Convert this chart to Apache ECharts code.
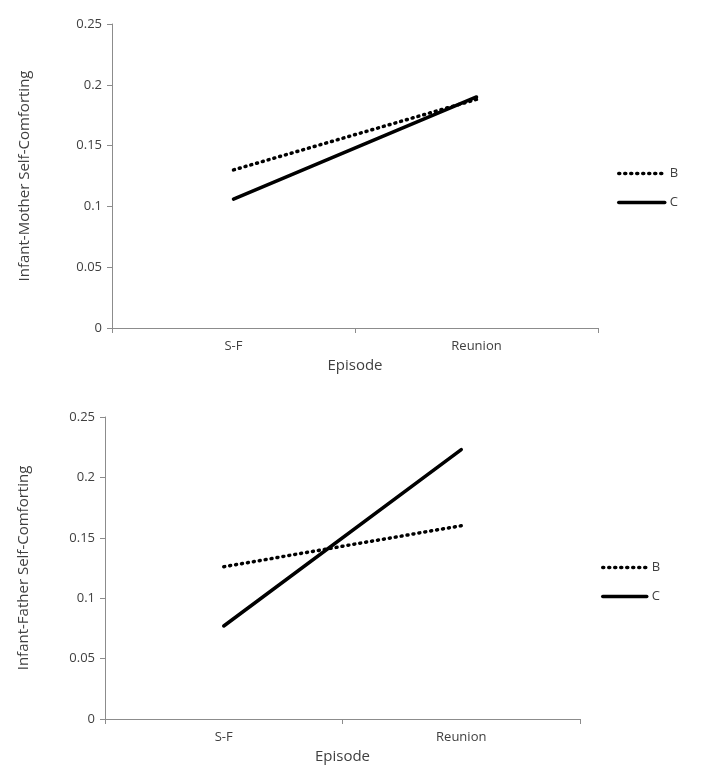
<!DOCTYPE html>
<html>
<head>
<meta charset="utf-8">
<script src="https://cdn.jsdelivr.net/npm/echarts@6/dist/echarts.min.js"></script>
<style>
    html, body { margin: 0; padding: 0; background: #fff; }
    #chart { width: 704px; height: 768px; }
</style>
</head>
<body>
<div id="chart"></div>
<script>
// categories and values
const episodes = ["S-F", "Reunion"];
const motherB = [0.130, 0.188];
const motherC = [0.106, 0.190];
const fatherB = [0.126, 0.160];
const fatherC = [0.077, 0.223];

const textColor = "#404040";
const axisColor = "#8c8c8c";
const font = "'Open Sans', 'Liberation Sans', sans-serif";

const dotted = { color: "#000", width: 3.5, type: [1, 5], cap: "round" };
const solid = { color: "#000", width: 3.5, cap: "round" };

function xAxisFor(gridIndex) {
    return {
        type: "category",
        gridIndex: gridIndex,
        data: episodes,
        boundaryGap: true,
        name: "Episode",
        nameLocation: "middle",
        nameGap: 30,
        nameTextStyle: { color: textColor, fontSize: 15, fontFamily: font },
        axisLine: { lineStyle: { color: axisColor, width: 1 } },
        axisTick: { show: true, length: 5, lineStyle: { color: axisColor } },
        axisLabel: { color: textColor, fontSize: 13, fontFamily: font, margin: 12 },
        splitLine: { show: false },
    };
}

function yAxisFor(gridIndex, name, gap) {
    return {
        type: "value",
        gridIndex: gridIndex,
        min: 0,
        max: 0.25,
        interval: 0.05,
        name: name,
        nameLocation: "middle",
        nameGap: gap,
        nameTextStyle: { color: textColor, fontSize: 15, fontFamily: font },
        axisLine: { show: true, lineStyle: { color: axisColor, width: 1 } },
        axisTick: { show: true, length: 5, lineStyle: { color: axisColor } },
        axisLabel: { color: textColor, fontSize: 13, fontFamily: font, margin: 10 },
        splitLine: { show: false },
    };
}

function lineSeries(name, data, style, idx) {
    return {
        name: name,
        type: "line",
        data: data,
        xAxisIndex: idx,
        yAxisIndex: idx,
        symbol: "none",
        lineStyle: style,
        itemStyle: { color: "#000" },
        silent: true,
    };
}

function legendAt(left, top, itemWidth) {
    return {
        orient: "vertical",
        left: left,
        top: top,
        itemWidth: itemWidth,
        itemHeight: 10,
        itemGap: 16,
        selectedMode: false,
        itemStyle: { opacity: 0 },
        lineStyle: { width: 3.5 },
        textStyle: { color: textColor, fontSize: 13, fontFamily: font },
        data: ["B", "C"],
    };
}

let mychart = echarts.init(document.getElementById("chart"), null, { renderer: "canvas" });
let option = {
    animation: false,
    backgroundColor: "#fff",
    grid: [
        { left: 112, top: 24, width: 486, height: 304 },
        { left: 105, top: 417, width: 475, height: 302 },
    ],
    legend: [
        legendAt(612, 162, 46),
        legendAt(596, 556, 44),
    ],
    xAxis: [xAxisFor(0), xAxisFor(1)],
    yAxis: [
        yAxisFor(0, "Infant-Mother Self-Comforting", 80),
        yAxisFor(1, "Infant-Father Self-Comforting", 74),
    ],
    series: [
        lineSeries("B", motherB, dotted, 0),
        lineSeries("C", motherC, solid, 0),
        lineSeries("B", fatherB, dotted, 1),
        lineSeries("C", fatherC, solid, 1),
    ],
};
mychart.setOption(option);
</script>
</body>
</html>
